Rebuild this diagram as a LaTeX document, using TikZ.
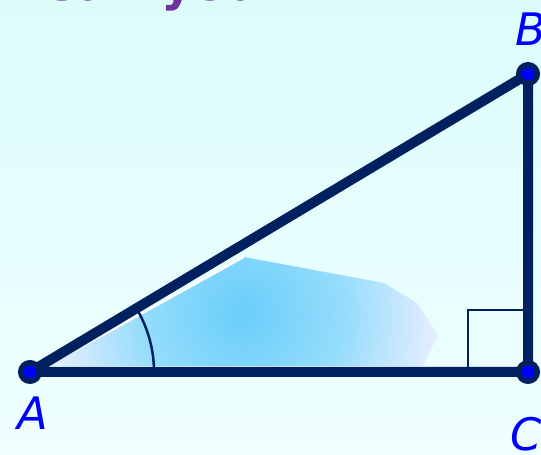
\documentclass[tikz,border=0pt]{standalone}
\usepackage{fontspec}
\newfontfamily\labelfont{DejaVu Sans}
\usetikzlibrary{calc}
\definecolor{navyline}{RGB}{0,32,96}
\definecolor{vertexblue}{RGB}{0,0,255}
\definecolor{bgtop}{RGB}{220,252,252}
\definecolor{bgbottom}{RGB}{240,255,255}
\definecolor{blobblue}{RGB}{105,206,250}
\definecolor{titlepurple}{RGB}{112,48,160}
\pgfdeclareradialshading{blobshade}{\pgfpoint{0bp}{0bp}}{color(0bp)=(blobblue); color(12.5bp)=(blobblue!70!white); color(25bp)=(white!90!blue!60!white); color(50bp)=(white)}
\tikzset{
  side/.style={draw=navyline, line width=0.2cm, line join=round},
  vertexdot/.style={circle, fill=vertexblue, draw=navyline, line width=0.11cm, minimum size=0.37cm, inner sep=0pt},
  vlabel/.style={font=\labelfont\itshape\fontsize{25.5}{30}\selectfont, text=vertexblue, inner sep=0pt},
  thinmark/.style={draw=navyline, line width=0.05cm},
  titletext/.style={font=\labelfont\bfseries\fontsize{28}{32}\selectfont, text=titlepurple, inner sep=0pt}
}
\begin{document}
\begin{tikzpicture}[x=0.02cm,y=-0.02cm]
\useasboundingbox (0,0) rectangle (541,455);
\shade[top color=bgtop, bottom color=bgbottom] (0,0) rectangle (541,455);
\node[titletext, anchor=base west] (title) at (40,0.6) {Can you};
\coordinate (A) at (30,372);
\coordinate (B) at (528,74);
\coordinate (C) at (528,372);
% shaded region near A
\begin{scope}
\clip (47,366) -- (244,257) -- (384,283) -- (417,303) -- (438,335) -- (423,366) -- cycle;
\shade[shading=blobshade] (243,313) circle (205);
\end{scope}
\draw[white, line width=0.04cm] (47,366) -- (244,257);
% angle and right angle marks
\draw[thinmark] ($(A)+(124,0)$) arc (0:-30.9:124);
\draw[thinmark] ($(C)+(-60,0)$) -- ++(0,-62) -- ++(60,0);
\draw[side] (A) -- (B) -- (C) -- cycle;
\node[vertexdot] (dA) at (A) {};
\node[vertexdot] (dB) at (B) {};
\node[vertexdot] (dC) at (C) {};
\node[vlabel, anchor=base west] (lA) at (17,430) {A};
\node[vlabel, anchor=base west] (lB) at (515,46) {B};
\node[vlabel, anchor=base west] (lC) at (510,451) {C};
\end{tikzpicture}
\end{document}
